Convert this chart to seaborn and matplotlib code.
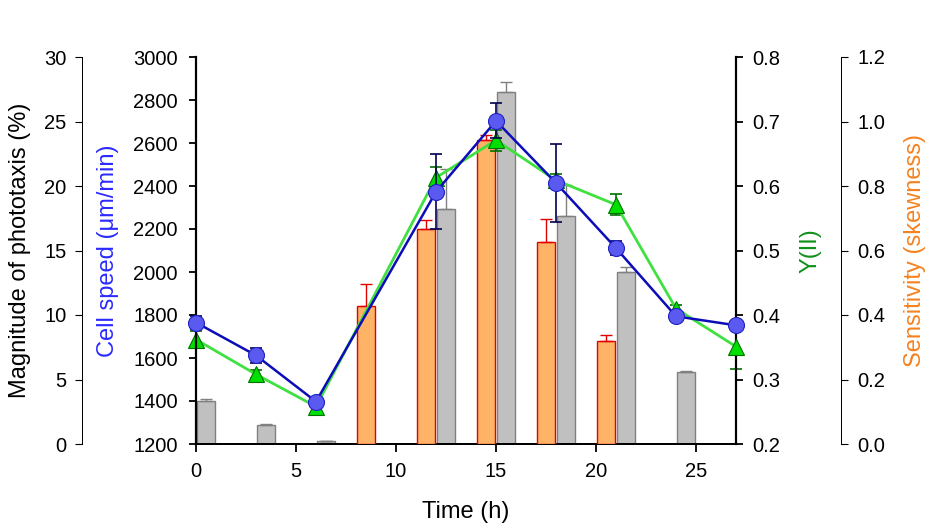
#!/usr/bin/env python3
"""
Phototaxis / cell speed / Y(II) / sensitivity over time, four y axes
"""

import numpy as np
import pandas as pd
import matplotlib
matplotlib.use("Agg")
import matplotlib.pyplot as plt
import seaborn as sns

# time points for the two line series
line_times = [0, 3, 6, 12, 15, 18, 21, 24, 27]
cell_speed = [1765, 1612, 1397, 2373, 2703, 2414, 2111, 1794, 1752]
cell_speed_err = [30, 33, 10, 175, 82, 181, 33, 8, 8]
yii = [0.362, 0.308, 0.258, 0.613, 0.671, 0.609, 0.571, 0.410, 0.351]
yii_err = [0.013, 0.006, 0.013, 0.016, 0.016, 0.010, 0.016, 0.005, 0.035]

# gray bars: magnitude of phototaxis (%)
pct_times = [0, 3, 6, 12, 15, 18, 21, 24]
phototaxis = [3.35, 1.49, 0.23, 18.2, 27.25, 17.65, 13.36, 5.58]
phototaxis_err = [0.13, 0.05, 0.02, 3.1, 0.85, 2.4, 0.34, 0.05]

# orange bars: sensitivity (skewness)
sens_times = [9, 12, 15, 18, 21]
sensitivity = [0.427, 0.666, 0.942, 0.625, 0.318]
sensitivity_err = [0.068, 0.028, 0.015, 0.074, 0.019]

sns.set_theme(style="ticks")
plt.rcParams['font.family'] = ['Liberation Sans', 'DejaVu Sans']

DPI = 100
fig = plt.figure(figsize=(9.37, 5.28), dpi=DPI)
px = 72.0 / DPI  # points per pixel
tick_size = 14.5
lab_size = 17

ax_pct = fig.add_axes([196 / 937, 84 / 528, 540 / 937, 387 / 528])
ax_sens = ax_pct.twinx()
ax_y = ax_pct.twinx()
ax_speed = ax_pct.twinx()

# --- bars
bar_w = 0.93
pct_x = np.array(pct_times) + 0.5
ax_pct.bar(pct_x, phototaxis, width=bar_w, color='#c0c0c0', edgecolor='#808080', linewidth=1)
ax_pct.errorbar(pct_x, phototaxis, yerr=[np.zeros(len(phototaxis)), phototaxis_err],
                fmt='none', ecolor='#808080', elinewidth=1, capsize=6 * px, capthick=1)

sens_x = np.array(sens_times) - 0.5
ax_sens.bar(sens_x, sensitivity, width=bar_w, color='#ffb366', edgecolor='#e00000', linewidth=1)
ax_sens.errorbar(sens_x, sensitivity, yerr=[np.zeros(len(sensitivity)), sensitivity_err],
                 fmt='none', ecolor='#e00000', elinewidth=1, capsize=6 * px, capthick=1)

# --- lines
df_y = pd.DataFrame({'time': line_times, 'yii': yii})
ax_y.errorbar(line_times, yii, yerr=yii_err, fmt='none', ecolor='#007000',
              elinewidth=1.2, capsize=6 * px, capthick=1.2, clip_on=False, zorder=2)
sns.lineplot(data=df_y, x='time', y='yii', ax=ax_y, color='#40e040', linewidth=2,
             marker='^', markersize=11, markerfacecolor='#00e000',
             markeredgecolor='#007000', markeredgewidth=0.8, clip_on=False, zorder=3)

df_s = pd.DataFrame({'time': line_times, 'speed': cell_speed})
ax_speed.errorbar(line_times, cell_speed, yerr=cell_speed_err, fmt='none', ecolor='#000050',
                  elinewidth=1.2, capsize=6 * px, capthick=1.2, clip_on=False, zorder=2)
sns.lineplot(data=df_s, x='time', y='speed', ax=ax_speed, color='#0c0cb8', linewidth=1.8,
             marker='o', markersize=11.5, markerfacecolor='#5a5af0',
             markeredgecolor='#2020c0', markeredgewidth=0.8, clip_on=False, zorder=3)

# --- limits and ticks
ax_pct.set_xlim(0, 27)
ax_pct.set_xticks([0, 5, 10, 15, 20, 25])
ax_pct.set_ylim(0, 30)
ax_pct.set_yticks(range(0, 31, 5))
ax_sens.set_ylim(0, 1.2)
ax_sens.set_yticks(np.arange(0, 1.21, 0.2))
ax_sens.set_yticklabels([f'{v:.1f}' for v in np.arange(0, 1.21, 0.2)])
ax_y.set_ylim(0.2, 0.8)
ax_y.set_yticks(np.arange(0.2, 0.81, 0.1))
ax_y.set_yticklabels([f'{v:.1f}' for v in np.arange(0.2, 0.81, 0.1)])
ax_speed.set_ylim(1200, 3000)
ax_speed.set_yticks(range(1200, 3001, 200))

# --- spines
for a in (ax_pct, ax_sens, ax_y, ax_speed):
    for s in a.spines.values():
        s.set_visible(False)
    a.grid(False)

ax_pct.spines['bottom'].set_visible(True)
ax_pct.spines['bottom'].set_linewidth(2 * px)
ax_pct.spines['bottom'].set_color('black')
ax_pct.spines['left'].set_visible(True)
ax_pct.spines['left'].set_position(('outward', 114 * px))
ax_pct.spines['left'].set_linewidth(1 * px)
ax_pct.spines['left'].set_color('black')
ax_pct.tick_params(axis='y', length=5, width=0.8, pad=6, labelsize=tick_size, colors='black')
ax_pct.tick_params(axis='x', length=6, width=1.3, pad=7, labelsize=tick_size, colors='black')

ax_speed.yaxis.tick_left()
ax_speed.yaxis.set_label_position('left')
ax_speed.spines['left'].set_visible(True)
ax_speed.spines['left'].set_linewidth(2.2 * px)
ax_speed.spines['left'].set_color('black')
ax_speed.tick_params(axis='y', length=5, width=1.3, pad=8, labelsize=tick_size, colors='black')

ax_y.spines['right'].set_visible(True)
ax_y.spines['right'].set_linewidth(2.2 * px)
ax_y.spines['right'].set_color('black')
ax_y.tick_params(axis='y', length=5, width=1.3, pad=7, labelsize=tick_size, colors='black')

ax_sens.spines['right'].set_visible(True)
ax_sens.spines['right'].set_position(('outward', 105 * px))
ax_sens.spines['right'].set_linewidth(1 * px)
ax_sens.spines['right'].set_color('black')
ax_sens.tick_params(axis='y', length=5, width=0.8, pad=7, labelsize=tick_size, colors='black')

# --- labels
ax_pct.set_xlabel('Time (h)', fontsize=lab_size, color='black')
ax_pct.xaxis.set_label_coords(0.5, -0.175)
ax_pct.xaxis.label.set_va('center')

ax_pct.set_ylabel('Magnitude of phototaxis (%)', fontsize=lab_size, color='black')
ax_pct.yaxis.set_label_coords((20 - 196) / 540, 0.5)
ax_pct.yaxis.label.set_va('center')

ax_speed.set_ylabel('Cell speed (\u03bcm/min)', fontsize=lab_size, color='#2a2aff')
ax_speed.yaxis.set_label_coords((108 - 196) / 540, 0.5)
ax_speed.yaxis.label.set_va('center')

ax_y.set_ylabel('Y(II)', fontsize=lab_size, color='#10901a')
ax_y.yaxis.set_label_coords((811 - 196) / 540, 0.5)
ax_y.yaxis.label.set_va('center')

ax_sens.set_ylabel('Sensitivity (skewness)', fontsize=lab_size, color='#f58220')
ax_sens.yaxis.set_label_coords((915 - 196) / 540, 0.5)
ax_sens.yaxis.label.set_va('center')

fig.savefig('out.png', dpi=DPI)
